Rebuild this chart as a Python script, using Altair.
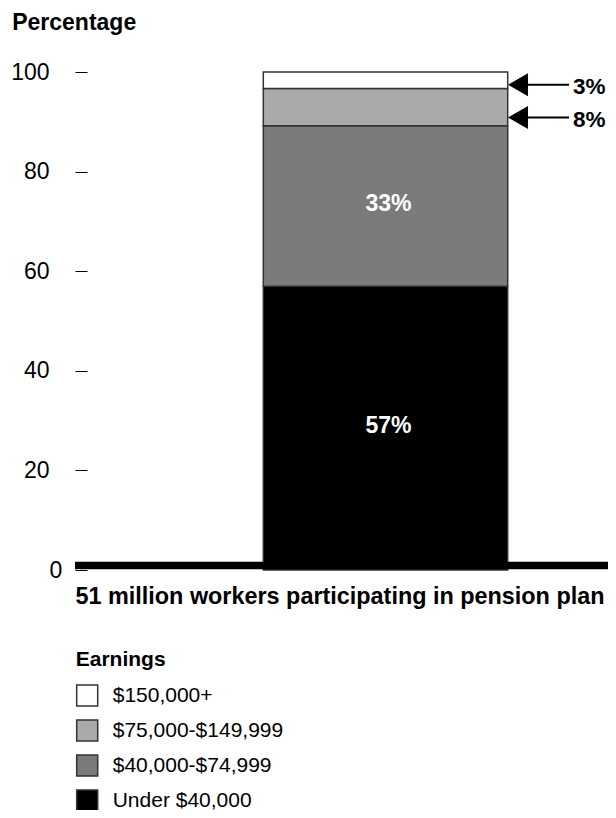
import altair as alt
import pandas as pd

# ---- data ----
categories = ["Under $40,000", "$40,000-$74,999", "$75,000-$149,999", "$150,000+"]
shares = [57.0, 32.2, 7.5, 3.3]
share_labels = ["57%", "33%", "8%", "3%"]
fill_colors = ["#000000", "#7b7b7b", "#aaaaaa", "#ffffff"]
group_label = "51 million workers participating in pension plan"
y_ticks = [0, 20, 40, 60, 80, 100]
legend_order = ["$150,000+", "$75,000-$149,999", "$40,000-$74,999", "Under $40,000"]

FONT = "Liberation Sans"

starts, ends, acc = [], [], 0.0
for v in shares:
    starts.append(acc)
    acc += v
    ends.append(acc)

df = pd.DataFrame({
    "cat": categories,
    "share": shares,
    "label": share_labels,
    "group": group_label,
    "start": starts,
    "end": ends,
})
df["mid"] = (df["start"] + df["end"]) / 2
df["arrow_y"] = df["start"] + 0.22 * df["share"]

W, H = 521, 498

xscale = alt.Scale(paddingInner=0, paddingOuter=0.5659, align=0.6374)
yscale = alt.Scale(domain=[0, 100], nice=False, zero=True)

color_scale = alt.Scale(
    domain=legend_order,
    range=[fill_colors[categories.index(c)] for c in legend_order],
)

base = alt.Chart(df)

bars = base.mark_bar(stroke="#333333", strokeWidth=1.5).encode(
    x=alt.X("group:N", scale=xscale, axis=alt.Axis(
        labels=False, ticks=False, domain=False, grid=False,
        title=group_label, titleX=-12, titleY=33, titleAlign="left",
        titleAnchor="start", titleBaseline="alphabetic", titleLimit=2000,
        titleFontSize=23.4, titleFontWeight="bold", titleColor="black",
        titleFont=FONT,
    )),
    y=alt.Y("start:Q", scale=yscale, axis=alt.Axis(
        values=y_ticks, grid=False, domain=False,
        tickSize=12, tickColor="black", tickWidth=1,
        labelFontSize=23, labelColor="black", labelFont=FONT,
        labelPadding=26, labelBaseline="middle",
        labelAlign={"condition": {"test": "datum.value === 0", "value": "left"}, "value": "right"},
        title="Percentage", titleAngle=0, titleX=-75.3, titleY=-42.5,
        titleAlign="left", titleBaseline="alphabetic",
        titleFontSize=23, titleFontWeight="bold", titleColor="black",
        titleFont=FONT,
    )),
    y2="end:Q",
    fill=alt.Fill("cat:N", scale=color_scale, sort=legend_order, legend=alt.Legend(
        orient="none", legendX=-11.3, legendY=577, direction="vertical",
        title="Earnings", titleFontSize=21, titleFontWeight="bold",
        titleColor="black", titleFont=FONT, titlePadding=14,
        labelFontSize=21, labelColor="black", labelFont=FONT, labelOffset=14,
        labelLimit=1000,
        symbolType="square", symbolSize=441, symbolStrokeWidth=1.5,
        symbolStrokeColor="#333333", symbolOpacity=1, rowPadding=8, padding=0,
    )),
)

inside = base.transform_filter("datum.share >= 20").mark_text(
    color="white", fontWeight="bold", fontSize=23, font=FONT,
    baseline="middle", align="center", dx=3, dy=-2,
).encode(
    x="group:N",
    y=alt.Y("mid:Q"),
    text="label:N",
)

arrow_path = ("M-1,0L-0.3443,-0.377L-0.3443,-0.0328L1,-0.0328L1,0.0328"
              "L-0.3443,0.0328L-0.3443,0.377Z")

arrows = base.transform_filter("datum.share < 20").mark_point(
    shape=arrow_path, size=3721, filled=True, fill="black",
    strokeWidth=0, opacity=1, xOffset=153,
).encode(
    x="group:N",
    y=alt.Y("arrow_y:Q"),
)

arrow_text = base.transform_filter("datum.share < 20").mark_text(
    color="black", fontWeight="bold", fontSize=22.5, font=FONT,
    align="left", baseline="middle", xOffset=187.5, dy=2,
).encode(
    x="group:N",
    y=alt.Y("arrow_y:Q"),
    text="label:N",
)

baseline_rule = alt.Chart(pd.DataFrame({"v": [y_ticks[0]]})).mark_rule(
    color="black", strokeWidth=7.5, yOffset=-4.5,
).encode(
    y=alt.Y("v:Q"),
    x=alt.value(-12),
    x2=alt.value(W),
)

chart = alt.layer(bars, baseline_rule, inside, arrows, arrow_text).resolve_scale(
    y="shared"
).properties(
    width=W,
    height=H,
    autosize=alt.AutoSizeParams(type="none"),
    padding={"left": 79, "top": 64, "right": 0, "bottom": 240},
).configure(font=FONT).configure_view(stroke=None)

chart.save("out.html", embed_options={"renderer": "svg", "actions": False})
